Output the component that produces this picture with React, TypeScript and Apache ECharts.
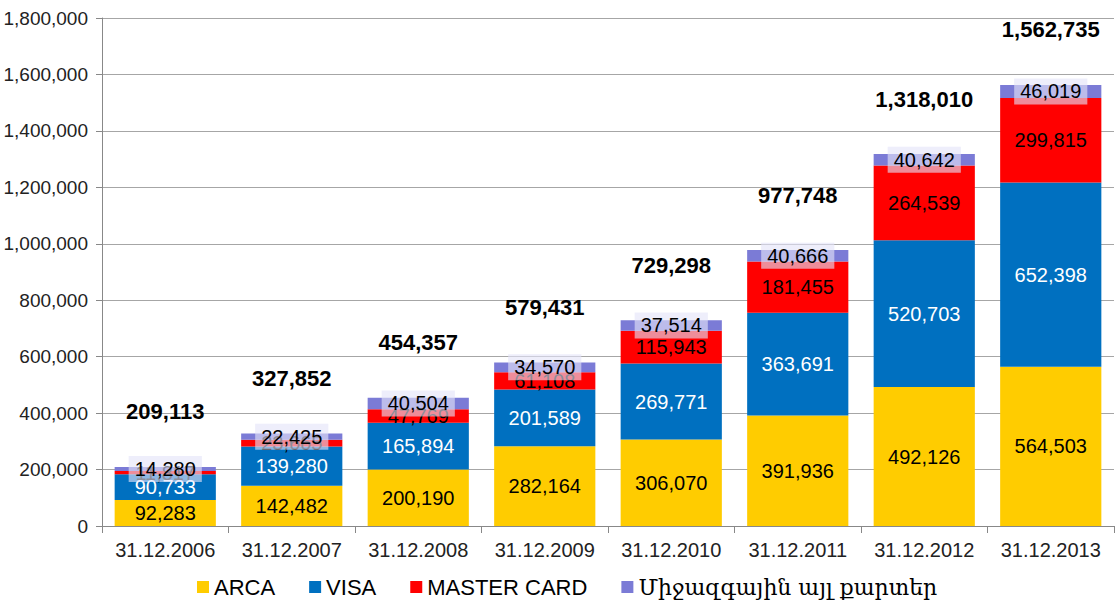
import React, { useEffect, useRef } from "react";
import * as echarts from "echarts";

const categories = ["31.12.2006", "31.12.2007", "31.12.2008", "31.12.2009", "31.12.2010", "31.12.2011", "31.12.2012", "31.12.2013"];
const arca = [92283, 142482, 200190, 282164, 306070, 391936, 492126, 564503];
const visa = [90733, 139280, 165894, 201589, 269771, 363691, 520703, 652398];
const master = [11817, 23665, 47769, 61108, 115943, 181455, 264539, 299815];
const other = [14280, 22425, 40504, 34570, 37514, 40666, 40642, 46019];
const totals = [209113, 327852, 454357, 579431, 729298, 977748, 1318010, 1562735];
const seriesNames = ["ARCA", "VISA", "MASTER CARD", "Միջազգային այլ քարտեր"];

const fmt = (v: number) => v.toLocaleString("en-US");
const FONT = "'Liberation Sans', Arial, sans-serif";

export default function App() {
  const ref = useRef<HTMLDivElement>(null);
  useEffect(() => {
    const chart = echarts.init(ref.current!, undefined, { renderer: "svg" });
    const segLabel = (color: string, bg?: string) => ({
      show: true,
      position: "inside" as const,
      color,
      fontFamily: FONT,
      fontSize: 20,
      fontWeight: "normal" as const,
      formatter: (p: any) => fmt(p.value),
      ...(bg ? { backgroundColor: bg, padding: [4, 6, 2, 6] } : {}),
    });
    chart.setOption({
      animation: false,
      textStyle: { fontFamily: FONT },
      grid: { left: 102, right: 3, top: 18, bottom: 80 },
      xAxis: {
        type: "category",
        data: categories,
        axisLine: { lineStyle: { color: "#888" } },
        axisTick: { show: true, length: 7, lineStyle: { color: "#888" } },
        axisLabel: { color: "#222", fontSize: 20, margin: 14, interval: 0, fontFamily: FONT },
      },
      yAxis: {
        type: "value",
        min: 0,
        max: 1800000,
        interval: 200000,
        axisLine: { show: true, lineStyle: { color: "#888" } },
        axisTick: { show: true, length: 6, lineStyle: { color: "#888" } },
        axisLabel: { color: "#222", fontSize: 19, margin: 14, formatter: (v: number) => fmt(v), fontFamily: FONT },
        splitLine: { lineStyle: { color: "#a6a6a6" } },
      },
      legend: {
        bottom: 3,
        left: 192,
        itemWidth: 12,
        itemHeight: 12,
        itemGap: 34,
        icon: "rect",
        data: seriesNames,
        formatter: (name: string) => (name === seriesNames[3] ? `{arm|${name}}` : name),
        textStyle: {
          fontSize: 22,
          color: "#000",
          fontFamily: FONT,
          rich: { arm: { fontSize: 22, color: "#000", fontFamily: "'DejaVu Serif', serif" } },
        },
      },
      series: [
        { name: seriesNames[0], type: "bar", stack: "s", data: arca, barWidth: "80%", itemStyle: { color: "#FFCC00" }, label: segLabel("#000") },
        { name: seriesNames[1], type: "bar", stack: "s", data: visa, itemStyle: { color: "#0070C0" }, label: segLabel("#fff") },
        { name: seriesNames[2], type: "bar", stack: "s", data: master, itemStyle: { color: "#FF0000" }, label: segLabel("#000") },
        { name: seriesNames[3], type: "bar", stack: "s", data: other, itemStyle: { color: "#7B7BD6" }, label: segLabel("#000", "rgba(228,228,248,0.62)") },
        {
          name: "total",
          type: "scatter",
          data: totals,
          symbolSize: 0,
          silent: true,
          itemStyle: { opacity: 1 },
          label: {
            show: true,
            position: "top",
            distance: 44,
            color: "#000",
            fontSize: 22,
            fontWeight: 700,
            fontFamily: FONT,
            formatter: (p: any) => fmt(p.value),
          },
        },
      ],
    });
    return () => chart.dispose();
  }, []);
  return <div ref={ref} style={{ width: 1117, height: 606, position: "absolute", left: 0, top: 0 }} />;
}
